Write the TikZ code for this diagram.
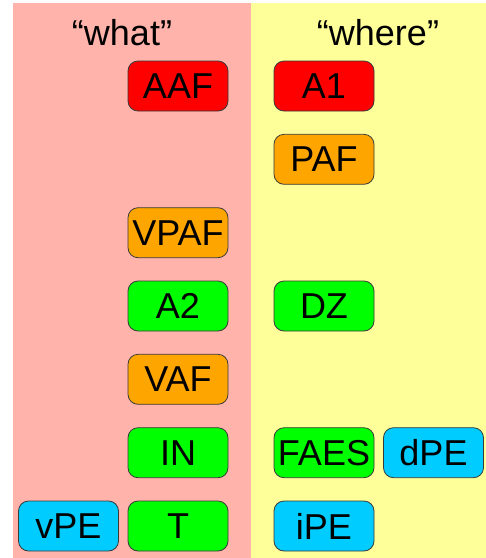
\documentclass[tikz,border=0pt]{standalone}
\usepackage{fontspec}
\setmainfont{Liberation Sans}
\definecolor{pinkbg}{HTML}{FFB3AB}
\definecolor{yellowbg}{HTML}{FFFF99}
\definecolor{cred}{HTML}{FF0000}
\definecolor{corange}{HTML}{FFA500}
\definecolor{cgreen}{HTML}{00FF00}
\definecolor{ccyan}{HTML}{00CCFF}
\definecolor{edge}{HTML}{3A3A3A}
\tikzset{
  area/.style={minimum width=100pt, minimum height=50pt, rounded corners=10pt,
    draw=edge, line width=0.8pt, inner sep=0pt,
    font=\fontsize{36}{36}\selectfont, text=black},
  redbox/.style={area, fill=cred},
  orangebox/.style={area, fill=corange},
  greenbox/.style={area, fill=cgreen},
  cyanbox/.style={area, fill=ccyan},
  title/.style={font=\fontsize{36}{36}\selectfont, text=black, anchor=base},
}
\begin{document}
\begin{tikzpicture}[x=1pt,y=-1pt]
\useasboundingbox (0,0) rectangle (486,558);
\fill[white] (0,0) rectangle (486,558);
\fill[pinkbg] (12.5,3) rectangle (250.5,558);
\fill[yellowbg] (250.5,3) rectangle (486,558);
\node[title] (what) at (122,45) {“what”};
\node[title] (where) at (378,45) {“where”};
\node[redbox] (AAF) at (178,86) {AAF};
\node[redbox] (A1) at (324,86) {A1};
\node[orangebox] (PAF) at (324,159.3) {PAF};
\node[orangebox] (VPAF) at (178,232.7) {VPAF};
\node[greenbox] (A2) at (178,306) {A2};
\node[greenbox] (DZ) at (324,306) {DZ};
\node[orangebox] (VAF) at (178,379.3) {VAF};
\node[greenbox] (IN) at (178,452.7) {IN};
\node[greenbox] (FAES) at (324,452.7) {FAES};
\node[cyanbox] (dPE) at (433.5,452.7) {dPE};
\node[cyanbox] (vPE) at (68.5,526) {vPE};
\node[greenbox] (T) at (178,526) {T};
\node[cyanbox] (iPE) at (324,526) {iPE};
\end{tikzpicture}
\end{document}
